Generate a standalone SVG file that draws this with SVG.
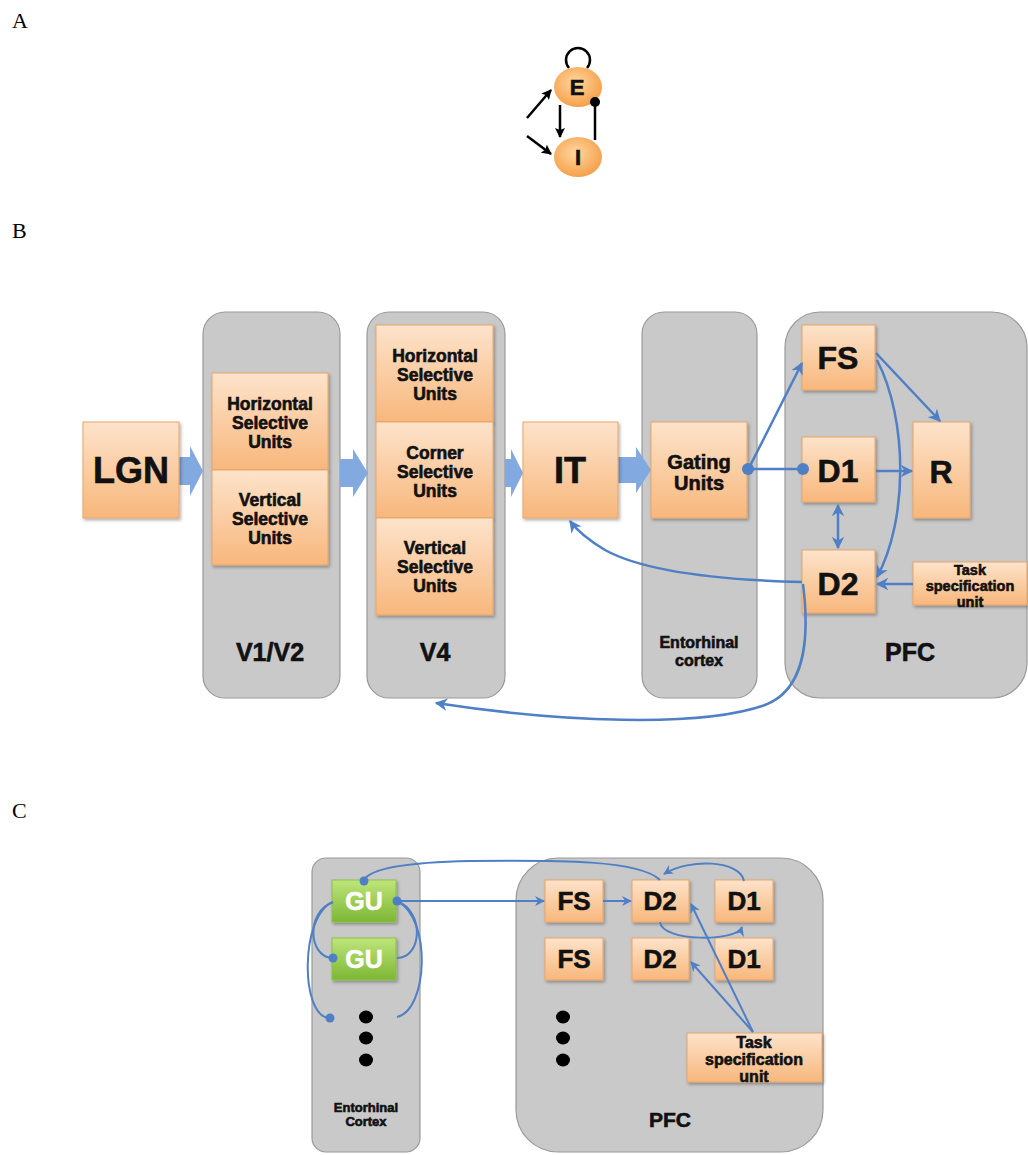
<svg xmlns="http://www.w3.org/2000/svg" width="1028" height="1155" viewBox="0 0 1028 1155">
<defs>
<linearGradient id="og" x1="0" y1="0" x2="0" y2="1"><stop offset="0" stop-color="#fde3cb"/><stop offset="1" stop-color="#f8b77c"/></linearGradient>
<linearGradient id="gg" x1="0" y1="0" x2="0" y2="1"><stop offset="0" stop-color="#bfe57a"/><stop offset="1" stop-color="#7cb734"/></linearGradient>
<radialGradient id="cg" cx="0.45" cy="0.4" r="0.6"><stop offset="0" stop-color="#ffd7a0"/><stop offset="1" stop-color="#f5a04a"/></radialGradient>
<filter id="sh" x="-10%" y="-10%" width="125%" height="125%"><feDropShadow dx="1.5" dy="2" stdDeviation="1.5" flood-color="#000" flood-opacity="0.3"/></filter>
<marker id="ab" viewBox="0 0 10 10" refX="9" refY="5" markerWidth="5" markerHeight="5" orient="auto-start-reverse" markerUnits="strokeWidth"><path d="M0,0 L10,5 L0,10 L3,5 z" fill="#4f7fc4"/></marker>
<marker id="ak" viewBox="0 0 10 10" refX="9" refY="5" markerWidth="4" markerHeight="4" orient="auto" markerUnits="strokeWidth"><path d="M0,0 L10,5 L0,10 L2,5 z" fill="#000"/></marker>
</defs>
<style>
.lbl{font-family:"Liberation Serif","Times New Roman",serif;font-size:22px;fill:#000}
.pan{fill:#c9c9c9;stroke:#9a9a9a;stroke-width:1.2}
.box{fill:url(#og);stroke:#e6a56a;stroke-width:1;filter:url(#sh)}
.gbox{fill:url(#gg);stroke:#8cbf4a;stroke-width:1;filter:url(#sh)}
.t{font-family:"Liberation Sans",Arial,sans-serif;font-weight:bold;fill:#111;text-anchor:middle;stroke:#111;stroke-width:0.6}
.w{fill:#fff;stroke:#fff}
.con{fill:none;stroke:#4f7fc4;stroke-width:2.5}
.con2{fill:none;stroke:#4f7fc4;stroke-width:2}
.big{fill:#82aae0}
.blk{fill:none;stroke:#000;stroke-width:2.5}
</style>
<rect width="1028" height="1155" fill="#fff"/>
<text class="lbl" x="12" y="28">A</text>
<text class="lbl" x="12" y="238">B</text>
<text class="lbl" x="12" y="818">C</text>

<!-- Panel A -->
<g id="A-connectors">
<path class="blk" d="M569,68 A12,12 0 1 1 587,68"/>
<path class="blk" d="M527,118 L551,90" marker-end="url(#ak)"/>
<path class="blk" d="M527,136 L551,154" marker-end="url(#ak)"/>
<path class="blk" d="M560,105 L560,137" marker-end="url(#ak)"/>
</g>
<g id="A-E"><ellipse cx="578" cy="87" rx="24" ry="20" fill="url(#cg)"/><text class="t" x="577" y="95" font-size="22">E</text></g>
<g id="A-I"><ellipse cx="578" cy="157" rx="24" ry="20" fill="url(#cg)"/><text class="t" x="578" y="165" font-size="22">I</text></g>
<g id="A-inhib">
<path class="blk" d="M595,102 L595,140"/>
<circle cx="595" cy="102" r="5" fill="#000"/>
</g>

<!-- Panel B panels -->
<g id="B-V1V2"><rect class="pan" x="203" y="312" width="137" height="386" rx="22"/><text class="t" x="270" y="661" font-size="25">V1/V2</text></g>
<g id="B-V4"><rect class="pan" x="367" y="312" width="138" height="386" rx="22"/><text class="t" x="435" y="661" font-size="25">V4</text></g>
<g id="B-EC"><rect class="pan" x="642" y="312" width="115" height="386" rx="22"/><text class="t" x="699" y="648" font-size="16">Entorhinal</text><text class="t" x="699" y="666" font-size="16">cortex</text></g>
<g id="B-PFC"><rect class="pan" x="785" y="312" width="242" height="386" rx="35"/><text class="t" x="910" y="661" font-size="25">PFC</text></g>

<!-- big arrows -->
<g id="B-bigarrows">
<path class="big" d="M176,457 L190,457 L190,446 L203,471 L190,496 L190,485 L176,485 z"/>
<path class="big" d="M340,459 L353,459 L353,449 L368,473 L353,497 L353,487 L340,487 z"/>
<path class="big" d="M505,459 L511,459 L511,449 L523,473 L511,497 L511,487 L505,487 z"/>
<path class="big" d="M618,457 L636,457 L636,447 L651,470 L636,493 L636,483 L618,483 z"/>
</g>

<g id="B-LGN"><rect class="box" x="83" y="422" width="96" height="96"/><text class="t" x="131" y="483" font-size="36">LGN</text></g>
<g id="B-V1H"><rect class="box" x="212" y="373" width="116" height="97"/><text class="t" x="270" y="410" font-size="17.5">Horizontal</text><text class="t" x="270" y="429" font-size="17.5">Selective</text><text class="t" x="270" y="448" font-size="17.5">Units</text></g>
<g id="B-V1V"><rect class="box" x="212" y="470" width="116" height="95"/><text class="t" x="270" y="506" font-size="17.5">Vertical</text><text class="t" x="270" y="525" font-size="17.5">Selective</text><text class="t" x="270" y="544" font-size="17.5">Units</text></g>
<g id="B-V4H"><rect class="box" x="376" y="325" width="117" height="97"/><text class="t" x="435" y="362" font-size="17.5">Horizontal</text><text class="t" x="435" y="381" font-size="17.5">Selective</text><text class="t" x="435" y="400" font-size="17.5">Units</text></g>
<g id="B-V4C"><rect class="box" x="376" y="422" width="117" height="96"/><text class="t" x="435" y="459" font-size="17.5">Corner</text><text class="t" x="435" y="478" font-size="17.5">Selective</text><text class="t" x="435" y="497" font-size="17.5">Units</text></g>
<g id="B-V4V"><rect class="box" x="376" y="518" width="117" height="97"/><text class="t" x="435" y="554" font-size="17.5">Vertical</text><text class="t" x="435" y="573" font-size="17.5">Selective</text><text class="t" x="435" y="592" font-size="17.5">Units</text></g>
<g id="B-IT"><rect class="box" x="523" y="422" width="95" height="96"/><text class="t" x="570" y="483" font-size="36">IT</text></g>
<g id="B-Gating"><rect class="box" x="651" y="422" width="96" height="96"/><text class="t" x="699" y="469" font-size="20">Gating</text><text class="t" x="699" y="490" font-size="20">Units</text></g>
<g id="B-FS"><rect class="box" x="802" y="325" width="73" height="65"/><text class="t" x="838" y="369" font-size="32">FS</text></g>
<g id="B-D1"><rect class="box" x="802" y="437" width="73" height="65"/><text class="t" x="838" y="482" font-size="32">D1</text></g>
<g id="B-R"><rect class="box" x="913" y="422" width="57" height="96"/><text class="t" x="941" y="483" font-size="32">R</text></g>
<g id="B-D2"><rect class="box" x="802" y="550" width="73" height="63"/><text class="t" x="838" y="595" font-size="32">D2</text></g>
<g id="B-Task"><rect class="box" x="913" y="562" width="114" height="43"/><text class="t" x="970" y="575" font-size="14.5">Task</text><text class="t" x="970" y="591" font-size="14.5">specification</text><text class="t" x="970" y="607" font-size="14.5">unit</text></g>

<g id="B-connectors">
<path class="con" d="M749,468 L802,363" marker-end="url(#ab)"/>
<path class="con" d="M749,469 L803,469"/>
<circle cx="748" cy="469" r="6" fill="#4f7fc4"/>
<circle cx="803" cy="469" r="6" fill="#4f7fc4"/>
<path class="con" d="M876,471 L912,471" marker-end="url(#ab)"/>
<path class="con" d="M876,353 L940,421" marker-end="url(#ab)"/>
<path class="con" d="M877,360 C908,420 908,520 877,577" marker-end="url(#ab)"/>
<path class="con" d="M838,505 L838,548" marker-start="url(#ab)" marker-end="url(#ab)"/>
<path class="con" d="M913,584 L877,584" marker-end="url(#ab)"/>
<path class="con" d="M802,582 C720,580 645,572 605,550 C590,541 578,532 570,521" marker-end="url(#ab)"/>
<path class="con" d="M803,584 C810,640 805,690 765,705 C700,728 560,722 436,703" marker-end="url(#ab)"/>
</g>

<!-- Panel C -->
<g id="C-EC"><rect class="pan" x="312" y="858" width="108" height="294" rx="14"/><text class="t" x="366" y="1112" font-size="13">Entorhinal</text><text class="t" x="366" y="1126" font-size="13">Cortex</text>
<ellipse cx="366" cy="1017" rx="7" ry="6.5" fill="#000"/><ellipse cx="366" cy="1038" rx="7" ry="6.5" fill="#000"/><ellipse cx="366" cy="1060" rx="7" ry="6.5" fill="#000"/></g>
<g id="C-PFC"><rect class="pan" x="516" y="858" width="307" height="294" rx="42"/><text class="t" x="670" y="1127" font-size="21">PFC</text>
<ellipse cx="563" cy="1017" rx="7" ry="6.5" fill="#000"/><ellipse cx="563" cy="1038" rx="7" ry="6.5" fill="#000"/><ellipse cx="563" cy="1060" rx="7" ry="6.5" fill="#000"/></g>
<g id="C-GU1"><rect class="gbox" x="332" y="880" width="64" height="42"/><text class="t w" x="364" y="910" font-size="25">GU</text></g>
<g id="C-GU2"><rect class="gbox" x="332" y="938" width="64" height="42"/><text class="t w" x="364" y="968" font-size="25">GU</text></g>
<g id="C-FS1"><rect class="box" x="545" y="880" width="58" height="42"/><text class="t" x="574" y="910" font-size="26">FS</text></g>
<g id="C-FS2"><rect class="box" x="545" y="938" width="58" height="42"/><text class="t" x="574" y="968" font-size="26">FS</text></g>
<g id="C-D2a"><rect class="box" x="632" y="880" width="57" height="42"/><text class="t" x="660" y="910" font-size="26">D2</text></g>
<g id="C-D2b"><rect class="box" x="632" y="938" width="57" height="42"/><text class="t" x="660" y="968" font-size="26">D2</text></g>
<g id="C-D1a"><rect class="box" x="715" y="880" width="58" height="42"/><text class="t" x="744" y="910" font-size="26">D1</text></g>
<g id="C-D1b"><rect class="box" x="715" y="938" width="58" height="42"/><text class="t" x="744" y="968" font-size="26">D1</text></g>
<g id="C-Task"><rect class="box" x="687" y="1033" width="135" height="49"/><text class="t" x="754" y="1048" font-size="16">Task</text><text class="t" x="754" y="1065" font-size="16">specification</text><text class="t" x="754" y="1082" font-size="16">unit</text></g>

<g id="C-connectors">
<path class="con2" d="M397,901 L544,901" marker-end="url(#ab)"/>
<circle cx="397" cy="901" r="4.5" fill="#4f7fc4"/>
<path class="con2" d="M603,901 L631,901" marker-end="url(#ab)"/>
<path class="con2" d="M660,880 C640,860 560,860 470,861 C420,862 372,866 364,880"/>
<circle cx="364" cy="881" r="4.5" fill="#4f7fc4"/>
<path class="con2" d="M744,881 C740,860 690,858 664,874" marker-end="url(#ab)"/>
<path class="con2" d="M660,922 C662,942 737,942 742,927" marker-end="url(#ab)"/>
<path class="con2" d="M753,1032 L691,904" marker-end="url(#ab)"/>
<path class="con2" d="M753,1032 L691,962" marker-end="url(#ab)"/>
<path class="con2" d="M333,902 C306,912 308,956 332,958"/>
<circle cx="333" cy="958" r="4.5" fill="#4f7fc4"/>
<path class="con2" d="M333,902 C300,915 300,1016 329,1018"/>
<circle cx="330" cy="1018" r="4.5" fill="#4f7fc4"/>
<path class="con2" d="M397,901 C425,912 422,958 397,958"/>
<path class="con2" d="M397,901 C432,918 428,1010 397,1017"/>
</g>
</svg>
